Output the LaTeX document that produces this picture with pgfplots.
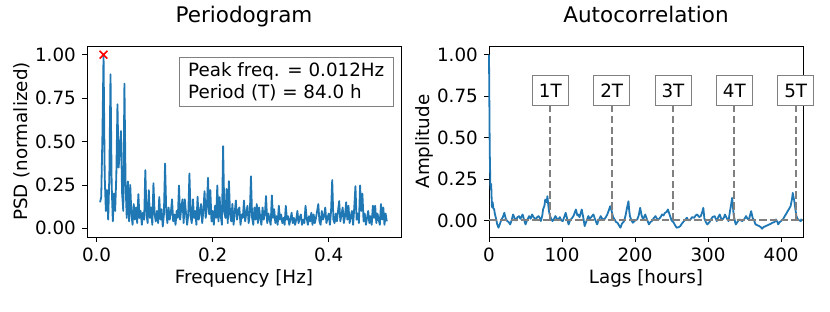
\documentclass[border=0pt]{standalone}
\usepackage{pgfplots}
\pgfplotsset{compat=1.18}
\usepackage{fontspec}
\setmainfont{DejaVu Sans}
\definecolor{mplblue}{HTML}{1F77B4}
\begin{document}
\fontsize{18.3bp}{22bp}\selectfont
\begin{tikzpicture}
\path[use as bounding box] (-87bp,-75bp) rectangle (743bp,237bp);
\pgfplotsset{
  mpl/.style={
    scale only axis, width=314bp, height=191bp,
    axis line style={line width=0.8bp, black},
    every tick/.style={black, line width=0.8bp},
    tick align=outside, major tick length=4.9bp,
    xtick pos=left, ytick pos=left,
    ticklabel style={font=\fontsize{18.3bp}{20bp}\selectfont},
    label style={font=\fontsize{18.3bp}{20bp}\selectfont},
    /pgf/number format/assume math mode=true,
    ytick={0,0.25,0.5,0.75,1},
    yticklabel style={/pgf/number format/.cd, fixed, fixed zerofill, precision=2},
    x label style={at={(axis description cs:0.5,-0.215)}, anchor=center},
    y label style={at={(axis description cs:-0.207,0.5)}, anchor=center, rotate=0},
    title style={at={(axis description cs:0.5,1.094)}, anchor=base},
  }
}
\begin{axis}[mpl,
  xmin=-0.0165, xmax=0.5245, ymin=-0.05, ymax=1.05,
  xtick={0,0.2,0.4},
  xticklabel style={/pgf/number format/.cd, fixed, fixed zerofill, precision=1},
  title={\fontsize{21.5bp}{24bp}\selectfont Periodogram}, xlabel={Frequency [Hz]}, ylabel={PSD (normalized)}]
\addplot[mplblue, line width=1.8bp, line join=round] coordinates {
(0.006,0.15)(0.008,0.18)(0.010,0.52)(0.012,1.00)(0.014,0.30)(0.016,0.10)(0.018,0.22)(0.020,0.05)
(0.022,0.30)(0.024,0.887)(0.026,0.25)(0.028,0.04)(0.030,0.20)(0.032,0.10)(0.034,0.30)(0.036,0.714)
(0.038,0.35)(0.040,0.45)(0.042,0.56)(0.044,0.20)(0.046,0.10)(0.048,0.833)(0.050,0.25)(0.052,0.06)
(0.054,0.27)(0.056,0.04)(0.058,0.25)(0.060,0.08)(0.062,0.02)(0.064,0.14)(0.066,0.05)(0.068,0.12)
(0.070,0.03)(0.072,0.197)(0.074,0.06)(0.076,0.10)(0.078,0.02)(0.080,0.09)(0.082,0.05)(0.084,0.335)
(0.086,0.08)(0.088,0.03)(0.090,0.22)(0.092,0.06)(0.094,0.12)(0.096,0.02)(0.098,0.26)(0.100,0.08)
(0.102,0.04)(0.104,0.10)(0.106,0.03)(0.108,0.18)(0.110,0.05)(0.112,0.11)(0.114,0.01)(0.116,0.08)
(0.118,0.373)(0.120,0.10)(0.122,0.03)(0.124,0.12)(0.126,0.05)(0.128,0.09)(0.130,0.167)(0.132,0.04)
(0.134,0.08)(0.136,0.02)(0.138,0.10)(0.140,0.06)(0.142,0.247)(0.144,0.05)(0.146,0.12)(0.148,0.167)
(0.150,0.03)(0.152,0.167)(0.154,0.09)(0.156,0.02)(0.158,0.08)(0.160,0.316)(0.162,0.07)(0.164,0.03)
(0.166,0.167)(0.168,0.06)(0.170,0.10)(0.172,0.02)(0.174,0.182)(0.176,0.05)(0.178,0.09)(0.180,0.14)
(0.182,0.03)(0.184,0.10)(0.186,0.214)(0.188,0.06)(0.190,0.12)(0.192,0.291)(0.194,0.08)(0.196,0.22)
(0.198,0.04)(0.200,0.10)(0.202,0.02)(0.204,0.13)(0.206,0.06)(0.208,0.247)(0.210,0.04)(0.212,0.18)
(0.214,0.07)(0.216,0.02)(0.218,0.473)(0.220,0.10)(0.222,0.06)(0.224,0.227)(0.226,0.03)(0.228,0.272)
(0.230,0.08)(0.232,0.04)(0.234,0.14)(0.236,0.02)(0.238,0.09)(0.240,0.16)(0.242,0.05)(0.244,0.10)
(0.246,0.12)(0.248,0.02)(0.250,0.08)(0.252,0.06)(0.254,0.16)(0.256,0.04)(0.258,0.09)(0.260,0.13)
(0.262,0.03)(0.264,0.08)(0.266,0.30)(0.268,0.06)(0.270,0.02)(0.272,0.12)(0.274,0.05)(0.276,0.14)
(0.278,0.03)(0.280,0.12)(0.282,0.06)(0.284,0.02)(0.286,0.12)(0.288,0.05)(0.290,0.08)(0.292,0.186)
(0.294,0.03)(0.296,0.085)(0.298,0.05)(0.300,0.02)(0.302,0.19)(0.304,0.06)(0.306,0.11)(0.308,0.03)
(0.310,0.07)(0.312,0.02)(0.314,0.13)(0.316,0.05)(0.318,0.08)(0.320,0.03)(0.322,0.06)(0.324,0.02)
(0.326,0.13)(0.328,0.05)(0.330,0.07)(0.332,0.02)(0.334,0.05)(0.336,0.09)(0.338,0.03)(0.340,0.06)
(0.342,0.02)(0.344,0.05)(0.346,0.10)(0.348,0.03)(0.350,0.06)(0.352,0.08)(0.354,0.02)(0.356,0.05)
(0.358,0.03)(0.360,0.13)(0.362,0.06)(0.364,0.02)(0.366,0.07)(0.368,0.04)(0.370,0.09)(0.372,0.02)
(0.374,0.08)(0.376,0.03)(0.378,0.06)(0.380,0.10)(0.382,0.14)(0.384,0.04)(0.386,0.02)(0.388,0.10)
(0.390,0.05)(0.392,0.07)(0.394,0.12)(0.396,0.03)(0.398,0.06)(0.400,0.085)(0.402,0.02)(0.404,0.10)
(0.406,0.278)(0.408,0.05)(0.410,0.03)(0.412,0.085)(0.414,0.04)(0.416,0.10)(0.418,0.157)(0.420,0.04)
(0.422,0.08)(0.424,0.12)(0.426,0.03)(0.428,0.07)(0.430,0.15)(0.432,0.05)(0.434,0.13)(0.436,0.03)
(0.438,0.07)(0.440,0.10)(0.442,0.02)(0.444,0.12)(0.446,0.243)(0.448,0.05)(0.450,0.085)(0.452,0.03)
(0.454,0.247)(0.456,0.10)(0.458,0.20)(0.460,0.04)(0.462,0.085)(0.464,0.02)(0.466,0.06)(0.468,0.10)
(0.470,0.03)(0.472,0.07)(0.474,0.02)(0.476,0.13)(0.478,0.06)(0.480,0.13)(0.482,0.03)(0.484,0.085)
(0.486,0.05)(0.488,0.02)(0.490,0.14)(0.492,0.05)(0.494,0.12)(0.496,0.02)(0.498,0.085)(0.500,0.04)
};
\addplot[red, only marks, mark=x, mark size=5.5bp, mark options={line width=1.6bp}] coordinates {(0.012,1.0)};
\node[draw=gray, line width=0.8bp, fill=white, anchor=north east, align=left,
  inner xsep=9bp, inner ysep=5.5bp, font=\fontsize{18.3bp}{21.5bp}\selectfont]
  at (rel axis cs:0.977,0.942) {Peak freq. = 0.012Hz\\Period (T) = 84.0 h};
\end{axis}
\begin{axis}[mpl, at={(402bp,0)}, anchor=south west, clip=false,
  xmin=0, xmax=430, ymin=-0.1, ymax=1.0525,
  xtick={0,100,200,300,400},
  title={\fontsize{21.5bp}{24bp}\selectfont Autocorrelation}, xlabel={Lags [hours]}, ylabel={Amplitude}]
\addplot[mplblue, line width=1.8bp, line join=round] coordinates {
(0,1.0)(1,0.42)(2,0.19)(3,0.22)(4,0.08)(5,0.11)(6,0.07)(7,0.07)(8,0.04)(10,0.006)(11,-0.02)(13,-0.044)
(15,-0.02)(17,0.006)(19,0.02)(21,0.046)(23,0.01)(25,-0.004)(27,-0.01)(29,-0.024)(31,0.0)(33,0.036)
(35,0.015)(37,0.0)(39,0.02)(41,0.026)(43,0.01)(46,0.036)(48,0.005)(50,-0.024)(52,0.0)(55,0.026)
(57,0.01)(59,0.036)(61,0.02)(64,0.006)(66,0.02)(68,0.026)(70,0.01)(71,-0.004)(73,0.03)(74,0.066)
(76,0.09)(77,0.126)(79,0.11)(80,0.146)(81,0.10)(82,0.06)(83,0.036)(85,0.01)(87,-0.004)(89,0.01)
(91,0.026)(93,0.01)(95,0.006)(97,0.02)(99,0.0)(101,-0.004)(103,0.02)(105,0.046)(107,0.01)(109,-0.024)
(111,0.0)(114,0.016)(116,0.03)(119,0.066)(121,0.03)(122,0.036)(124,0.02)(127,0.066)(129,0.02)(131,-0.034)
(133,-0.01)(136,0.026)(138,0.01)(140,0.02)(143,0.036)(145,0.01)(148,-0.024)(150,0.0)(153,0.026)(155,0.01)
(158,0.006)(160,0.02)(162,0.036)(164,0.06)(166,0.086)(168,0.056)(170,0.02)(172,0.006)(174,-0.01)(176,-0.014)
(178,-0.03)(180,-0.044)(182,-0.02)(185,-0.004)(187,0.03)(189,0.076)(191,0.116)(192,0.06)(193,0.026)(195,0.0)
(197,-0.014)(200,0.0)(203,0.006)(205,0.03)(207,0.076)(209,0.03)(211,0.006)(214,0.036)(216,0.01)(219,-0.024)
(221,-0.01)(223,-0.004)(225,0.01)(228,0.026)(230,0.01)(232,0.006)(235,0.02)(237,0.036)(239,0.03)(241,0.046)
(243,0.05)(245,0.066)(247,0.04)(248,0.026)(250,0.0)(253,-0.014)(255,-0.03)(257,-0.044)(260,-0.04)(262,-0.034)
(264,-0.02)(267,-0.004)(269,0.006)(271,0.016)(273,0.0)(276,0.006)(278,0.02)(281,0.016)(283,0.03)(285,0.036)
(288,0.02)(290,0.026)(292,0.05)(293.5,0.076)(295,0.01)(297,-0.01)(299,-0.024)(302,-0.01)(304,0.006)(306,0.02)
(309,0.026)(312,-0.004)(314,0.02)(316,0.036)(318,0.01)(320,0.006)(322,0.02)(323,0.036)(326,0.01)(328,-0.004)
(330,0.056)(331,0.08)(333,0.136)(335,0.036)(337,-0.01)(338,-0.024)(340,-0.01)(343,0.006)(345,0.0)(347,-0.004)
(350,0.01)(352,0.026)(354,0.01)(356,0.006)(359,0.056)(361,0.016)(363,0.0)(365,-0.024)(368,-0.03)(370,-0.034)
(372,-0.04)(374,-0.05)(376,-0.04)(379,-0.034)(381,-0.03)(384,-0.024)(386,-0.02)(388,-0.014)(391,-0.01)(393,0.006)
(395,-0.01)(396,-0.024)(398,-0.01)(400,-0.004)(403,0.01)(405,0.026)(407,0.04)(409,0.056)(411,0.07)(413,0.086)
(415,0.13)(416,0.166)(417,0.14)(418,0.12)(419.5,0.07)(421,0.026)(423,0.006)(425,0.0)(427,-0.004)(428,0.01)
};
\pgfplotsset{gdash/.style={gray, line width=2bp, dash pattern=on 7.5bp off 3.3bp}}
\addplot[gdash] coordinates {(0,0)(430,0)};
\addplot[gdash] coordinates {(84,0)(84,0.75)};
\addplot[gdash] coordinates {(168,0)(168,0.75)};
\addplot[gdash] coordinates {(252,0)(252,0.75)};
\addplot[gdash] coordinates {(336,0)(336,0.75)};
\addplot[gdash] coordinates {(420,0)(420,0.75)};
\tikzset{tb/.style={draw=gray, line width=0.8bp, fill=white, inner xsep=6.5bp, inner ysep=0bp, minimum height=30bp, font=\fontsize{18.3bp}{20bp}\selectfont}}
\node[tb] at (axis cs:84,0.782) {1T};
\node[tb] at (axis cs:168,0.782) {2T};
\node[tb] at (axis cs:252,0.782) {3T};
\node[tb] at (axis cs:336,0.782) {4T};
\node[tb] at (axis cs:420,0.782) {5T};
\end{axis}
\end{tikzpicture}
\end{document}
